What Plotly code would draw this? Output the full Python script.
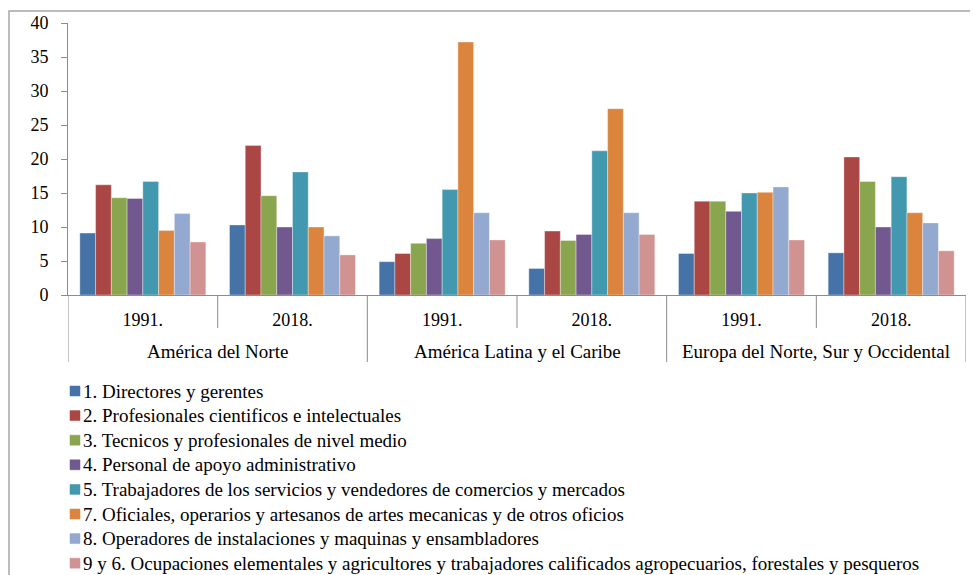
import plotly.graph_objects as go

regions = ["América del Norte", "América del Norte",
           "América Latina y el Caribe", "América Latina y el Caribe",
           "Europa del Norte, Sur y Occidental", "Europa del Norte, Sur y Occidental"]
years = ["1991.", "2018.", "1991.", "2018.", "1991.", "2018."]

series_names = [
    "1. Directores y gerentes",
    "2. Profesionales cientificos e intelectuales",
    "3. Tecnicos y profesionales de nivel medio",
    "4. Personal de apoyo administrativo",
    "5. Trabajadores de los servicios y vendedores de comercios y mercados",
    "7. Oficiales, operarios y artesanos de artes mecanicas y de otros oficios",
    "8. Operadores de instalaciones y maquinas y ensambladores",
    "9 y 6. Ocupaciones elementales y agricultores y trabajadores calificados agropecuarios, forestales y pesqueros",
]

s1 = [9.1, 10.3, 4.9, 3.9, 6.1, 6.2]
s2 = [16.2, 22.0, 6.1, 9.4, 13.8, 20.3]
s3 = [14.3, 14.6, 7.6, 8.0, 13.8, 16.7]
s4 = [14.2, 10.0, 8.3, 8.9, 12.3, 10.0]
s5 = [16.7, 18.1, 15.5, 21.2, 15.0, 17.4]
s7 = [9.5, 10.0, 37.2, 27.4, 15.1, 12.1]
s8 = [12.0, 8.7, 12.1, 12.1, 15.9, 10.6]
s96 = [7.8, 5.9, 8.1, 8.9, 8.1, 6.5]

series_values = [s1, s2, s3, s4, s5, s7, s8, s96]
colors = ["#4572A7", "#AA4643", "#89A54E", "#71588F", "#4198AF", "#DB843D", "#93A9CF", "#D19392"]

FONT = "Liberation Serif, Times New Roman, serif"
AXC = "#8C8C8C"

# unique category keys (region + year), displayed with the year only
cat_keys = [f"{r} · {y}" for r, y in zip(regions, years)]

fig = go.Figure()
for name, vals, col in zip(series_names, series_values, colors):
    fig.add_trace(go.Bar(
        x=cat_keys, y=vals, name=name,
        marker=dict(color=col, line=dict(width=0.6, color="rgba(255,255,255,0.6)")),
        showlegend=False,
    ))

# page body has an 8px margin: work in window pixels, convert to figure pixels
OFF = 8
W, H = 978 - OFF, 575 - OFF
PX0, PX1, PY0, PY1 = 68, 966, 23, 295          # plot area in window pixels
L, R, T, B = PX0 - OFF, W - (PX1 - OFF), PY0 - OFF, H - (PY1 - OFF)
pw, ph = PX1 - PX0, PY1 - PY0

def px2x(px):
    return (px - PX0) / pw

def py2y(py):
    return (PY1 - py) / ph

shapes = [dict(
    type="rect", xref="paper", yref="paper",
    x0=px2x(OFF + 1), x1=px2x(1000), y0=py2y(620), y1=py2y(OFF + 3),
    line=dict(color="#A6A6A6", width=1.5), fillcolor="rgba(0,0,0,0)", layer="below",
)]
annotations = []

# category dividers: short ones between years, long ones between regions
n = len(cat_keys)
for i in range(n + 1):
    b = i - 0.5
    is_region_edge = (i == 0 or i == n or regions[i] != regions[i - 1])
    shapes.append(dict(
        type="line", xref="x", yref="paper", x0=b, x1=b,
        y0=0, y1=py2y(362 if is_region_edge else 328),
        line=dict(color=AXC, width=1),
    ))

# region labels centred under their categories
seen = []
for r in regions:
    if r not in seen:
        seen.append(r)
for r in seen:
    idx = [i for i, rr in enumerate(regions) if rr == r]
    annotations.append(dict(
        xref="x", yref="paper", x=sum(idx) / len(idx), y=py2y(351),
        xanchor="center", yanchor="middle", text=r, showarrow=False,
        font=dict(family=FONT, size=19, color="black"),
    ))

# legend as real text next to coloured squares
y0_leg, dy_leg = 391, 24.6
for i, (name, col) in enumerate(zip(series_names, colors)):
    yc = y0_leg + i * dy_leg
    shapes.append(dict(
        type="rect", xref="paper", yref="paper",
        x0=px2x(70), x1=px2x(80), y0=py2y(yc + 5), y1=py2y(yc - 5),
        line=dict(color=col, width=0.5), fillcolor=col,
    ))
    annotations.append(dict(
        xref="paper", yref="paper", x=px2x(80.5), y=py2y(yc),
        xanchor="left", yanchor="middle", text=name, showarrow=False,
        font=dict(family=FONT, size=19, color="black"),
    ))

fig.update_layout(
    width=W, height=H,
    margin=dict(l=L, r=R, t=T, b=B, autoexpand=False),
    paper_bgcolor="white", plot_bgcolor="white",
    font=dict(family=FONT, size=18, color="black"),
    barmode="group", bargap=0.158, bargroupgap=0,
    showlegend=False,
    xaxis=dict(
        type="category", range=[-0.5, n - 0.5],
        tickmode="array", tickvals=cat_keys, ticktext=years,
        showline=True, linecolor=AXC, linewidth=1, ticks="",
        tickfont=dict(family=FONT, size=18, color="black"),
        ticklabelstandoff=8,
        showgrid=False, zeroline=False,
    ),
    yaxis=dict(
        range=[0, 40], tickvals=[0, 5, 10, 15, 20, 25, 30, 35, 40],
        showline=True, linecolor=AXC, linewidth=1,
        ticks="outside", ticklen=6, tickcolor=AXC,
        tickfont=dict(family=FONT, size=18, color="black"),
        ticklabelstandoff=9,
        showgrid=False, zeroline=False,
    ),
    shapes=shapes,
    annotations=annotations,
)

fig.write_html("out.html")
